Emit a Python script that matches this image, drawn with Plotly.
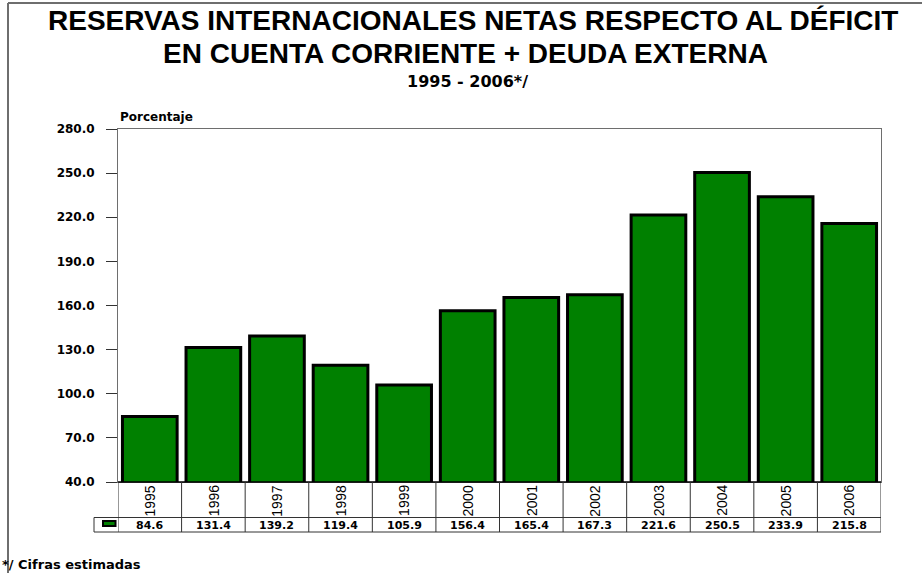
import plotly.graph_objects as go

years = ["1995", "1996", "1997", "1998", "1999", "2000", "2001", "2002", "2003", "2004", "2005", "2006"]
values = [84.6, 131.4, 139.2, 119.4, 105.9, 156.4, 165.4, 167.3, 221.6, 250.5, 233.9, 215.8]
y_ticks = [40, 70, 100, 130, 160, 190, 220, 250, 280]

title_l1 = "RESERVAS INTERNACIONALES NETAS RESPECTO AL DÉFICIT"
title_l2 = "EN CUENTA CORRIENTE + DEUDA EXTERNA"
title_l3 = "1995 - 2006*/"
y_title = "Porcentaje"
footnote = "*/ Cifras estimadas"

# layout geometry (pixels)
WIDTH, HEIGHT = 922, 573
L, R, T, B = 118, 881, 129, 482
PW, PH = R - L, B - T


def px(x):
    return (x - L) / PW


def py(y):
    return (B - y) / PH


BOLD = "DejaVu Sans"
ARIAL = "Liberation Sans"

fig = go.Figure()
fig.add_trace(go.Bar(
    x=years, y=values,
    marker=dict(color="#008000", line=dict(color="#000000", width=3)),
    hoverinfo="x+y",
))

shapes = []
annotations = []

# outer frame (left & top)
shapes.append(dict(type="line", xref="paper", yref="paper", x0=px(8), x1=px(8), y0=py(3), y1=py(HEIGHT + 5),
                   line=dict(color="#6e6e6e", width=2)))
shapes.append(dict(type="line", xref="paper", yref="paper", x0=px(8), x1=px(WIDTH + 5), y0=py(3), y1=py(3),
                   line=dict(color="#6e6e6e", width=2)))

# data table below the plot
row1_bottom, row2_bottom = 517.5, 532
tcol = "#333333"
shapes.append(dict(type="line", xref="paper", yref="paper", x0=0, x1=1, y0=py(B), y1=py(B),
                   line=dict(color="#000000", width=1.5)))
for yy in (row1_bottom, row2_bottom):
    shapes.append(dict(type="line", xref="paper", yref="paper", x0=px(94), x1=1, y0=py(yy), y1=py(yy),
                       line=dict(color=tcol, width=1)))
shapes.append(dict(type="line", xref="paper", yref="paper", x0=px(94), x1=px(94), y0=py(row1_bottom), y1=py(row2_bottom),
                   line=dict(color=tcol, width=1)))
for i in range(len(years) + 1):
    shapes.append(dict(type="line", xref="x", yref="paper", x0=i - 0.5, x1=i - 0.5, y0=py(B), y1=py(row2_bottom),
                       line=dict(color=tcol, width=1)))
# legend swatch
shapes.append(dict(type="rect", xref="paper", yref="paper", x0=px(103), x1=px(115.5), y0=py(521), y1=py(526),
                   fillcolor="#008000", line=dict(color="#000000", width=2)))

for i, (yr, v) in enumerate(zip(years, values)):
    annotations.append(dict(x=i, xref="x", y=py((B + row1_bottom) / 2 + 1), yref="paper", text=yr, textangle=-90,
                            showarrow=False, xanchor="center", yanchor="middle",
                            font=dict(family=ARIAL, size=14, color="#000000")))
    annotations.append(dict(x=i, xref="x", y=py((row1_bottom + row2_bottom) / 2 + 0.5), yref="paper",
                            text="<b>%.1f</b>" % v, showarrow=False, xanchor="center", yanchor="middle",
                            font=dict(family=BOLD, size=11, color="#000000")))

# titles
annotations.append(dict(x=px(473), y=py(21), xref="paper", yref="paper", text="<b>%s</b>" % title_l1,
                        showarrow=False, xanchor="center", yanchor="middle",
                        font=dict(family=ARIAL, size=28, color="#000000")))
annotations.append(dict(x=px(465), y=py(54), xref="paper", yref="paper", text="<b>%s</b>" % title_l2,
                        showarrow=False, xanchor="center", yanchor="middle",
                        font=dict(family=ARIAL, size=28, color="#000000")))
annotations.append(dict(x=px(467), y=py(81), xref="paper", yref="paper", text="<b>%s</b>" % title_l3,
                        showarrow=False, xanchor="center", yanchor="middle",
                        font=dict(family=BOLD, size=16, color="#000000")))
annotations.append(dict(x=px(118), y=py(117), xref="paper", yref="paper", text="<b>%s</b>" % y_title,
                        showarrow=False, xanchor="left", yanchor="middle",
                        font=dict(family=BOLD, size=12, color="#000000")))
annotations.append(dict(x=px(0), y=py(564), xref="paper", yref="paper", text="<b>%s</b>" % footnote,
                        showarrow=False, xanchor="left", yanchor="middle",
                        font=dict(family=BOLD, size=13, color="#000000")))

fig.update_layout(
    width=WIDTH, height=HEIGHT,
    margin=dict(l=L, r=WIDTH - R, t=T, b=HEIGHT - B, pad=0),
    paper_bgcolor="#ffffff", plot_bgcolor="#ffffff",
    showlegend=False,
    bargap=0.14,
    shapes=shapes,
    annotations=annotations,
    xaxis=dict(type="category", showticklabels=False, ticks="", showgrid=False, zeroline=False,
               showline=True, linecolor="#6e6e6e", linewidth=1, mirror=True, range=[-0.5, len(years) - 0.5]),
    yaxis=dict(range=[40, 280], tickvals=y_ticks, tickformat=".1f", ticks="outside", ticklen=11,
               tickcolor="#333333", tickwidth=1, showgrid=False, zeroline=False,
               showline=True, linecolor="#6e6e6e", linewidth=1, mirror=True,
               ticklabelstandoff=9,
               tickfont=dict(family=BOLD, size=12, color="#000000", weight="bold")),
    yaxis2=dict(range=[40, 280], tickvals=y_ticks, overlaying="y", side="left", ticks="inside", ticklen=12,
                tickcolor="#333333", tickwidth=1, showticklabels=False, showgrid=False, zeroline=False,
                showline=False),
)

fig.write_html("out.html", config={"displayModeBar": False},
               post_script="document.body.style.margin='0';document.body.style.overflow='hidden';")
